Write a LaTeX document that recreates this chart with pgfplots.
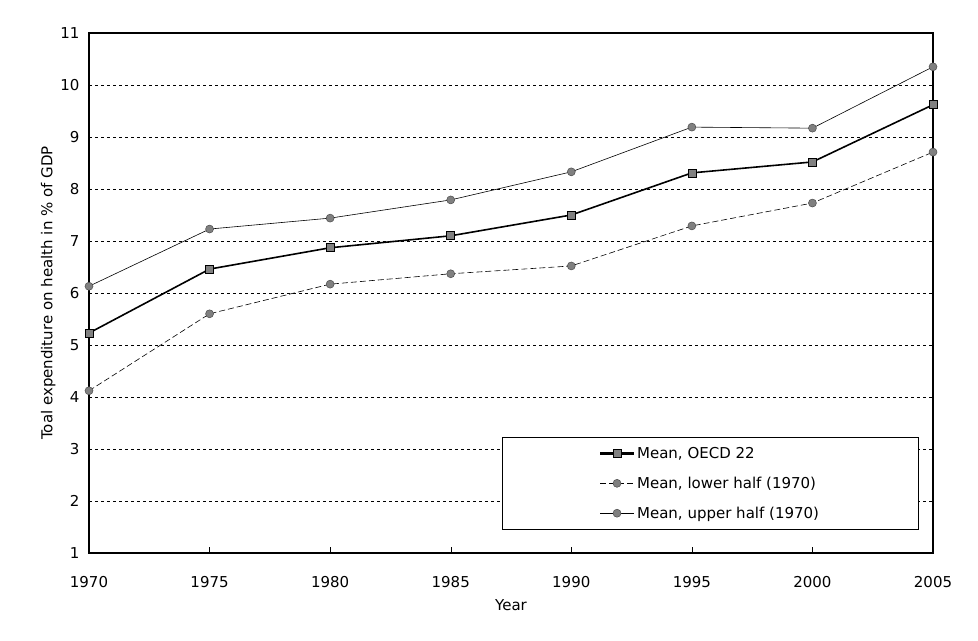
\documentclass[border=0pt]{standalone}
\usepackage{fontspec}
\setmainfont{DejaVu Sans}
\usepackage{pgfplots}
\pgfplotsset{compat=1.18}
\begin{document}
\begin{tikzpicture}
\begin{axis}[
  scale only axis,
  width=844pt, height=520pt,
  xmin=1970, xmax=2005, ymin=1, ymax=11,
  xtick={1970,1975,...,2005},
  ytick={1,2,...,11},
  xticklabel style={/pgf/number format/1000 sep={}},
  /pgf/number format/assume math mode=true,
  tick label style={font=\fontsize{15}{17}\selectfont},
  label style={font=\fontsize{15}{17}\selectfont},
  axis line style={line width=1.8pt},
  xtick align=inside,
  xtick pos=bottom,
  major tick length=6pt,
  x tick style={black, line width=0.4pt},
  y tick style={draw=none},
  ymajorgrids,
  grid style={black, dashed, line width=0.5pt},
  xlabel={Year},
  ylabel={Toal expenditure on health in \% of GDP},
  xlabel style={yshift=-5pt},
  ylabel style={yshift=-2pt},
  xticklabel style={yshift=-20pt},
  yticklabel style={xshift=-6pt},
  legend style={at={(0.489,0.223)}, anchor=north west, draw=black,
    font=\fontsize{15}{17}\selectfont, inner xsep=97pt, inner ysep=8pt,
    row sep=13pt, cells={anchor=west}},
  legend image code/.code={\draw[mark repeat=2,mark phase=2,#1] plot coordinates {(0pt,0pt) (17pt,0pt) (34pt,0pt)};},
]
\addplot[black, line width=1.6pt, mark=square*, mark size=4pt,
  mark options={fill=gray, draw=black, line width=0.6pt, solid},
  forget plot]
  coordinates {(1970,5.23) (1975,6.46) (1980,6.87) (1985,7.10) (1990,7.50) (1995,8.31) (2000,8.52) (2005,9.62)};
\addlegendimage{legend image code/.code={\path[draw=black, line width=2.2pt] (0pt,0pt) -- (34pt,0pt);
    \path[draw=black, fill=gray, line width=0.6pt] (13pt,-4pt) rectangle (21pt,4pt);}}
\addlegendentry{Mean, OECD 22}
\addplot[black, line width=0.6pt, dashed, dash pattern=on 6pt off 3pt, mark=*, mark size=4pt,
  mark options={fill=gray, draw=black!70, line width=0.5pt, solid}]
  coordinates {(1970,4.12) (1975,5.60) (1980,6.17) (1985,6.37) (1990,6.52) (1995,7.29) (2000,7.73) (2005,8.71)};
\addlegendentry{Mean, lower half (1970)}
\addplot[black, line width=0.6pt, mark=*, mark size=4pt,
  mark options={fill=gray, draw=black!70, line width=0.5pt, solid}]
  coordinates {(1970,6.13) (1975,7.23) (1980,7.44) (1985,7.79) (1990,8.33) (1995,9.19) (2000,9.17) (2005,10.35)};
\addlegendentry{Mean, upper half (1970)}
\end{axis}
\useasboundingbox ([xshift=-89pt,yshift=-87pt]current axis.south west) rectangle ([xshift=45pt,yshift=33pt]current axis.north east);
\end{tikzpicture}
\end{document}
